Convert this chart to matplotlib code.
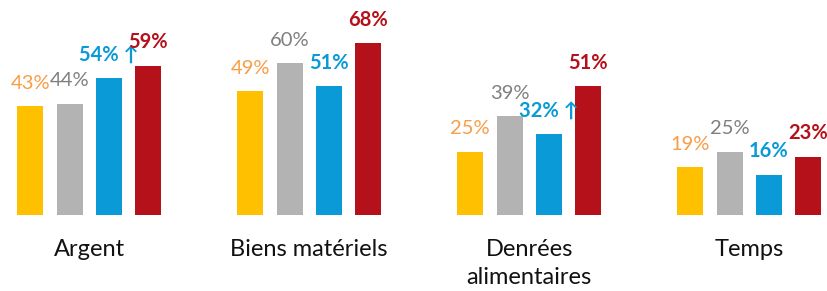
import matplotlib
matplotlib.use("Agg")
import matplotlib.pyplot as plt
import numpy as np

categories = ["Argent", "Biens matériels", "Denrées\nalimentaires", "Temps"]
yellow = [43, 49, 25, 19]
gray = [44, 60, 39, 25]
blue = [54, 51, 32, 16]
red = [59, 68, 51, 23]
blue_arrow = [True, False, True, False]

series = [yellow, gray, blue, red]
bar_colors = ["#FFC000", "#B3B3B3", "#0A9AD7", "#B5111A"]
label_colors = ["#F89C47", "#7F7F7F", "#0A9AD7", "#B5111A"]
label_weights = ["normal", "normal", "bold", "bold"]

plt.rcParams["font.family"] = ["Lato", "DejaVu Sans"]

fig = plt.figure(figsize=(8.27, 2.91), dpi=100)
ax = fig.add_axes([0, 76 / 291, 1, 215 / 291])

x = np.arange(len(categories))
step = 0.1786
width = 0.118
offsets = [-1.5 * step, -0.5 * step, 0.5 * step, 1.5 * step]

for k, vals in enumerate(series):
    pos = x + offsets[k]
    ax.bar(pos, vals, width=width, color=bar_colors[k])
    for i, (p, v) in enumerate(zip(pos, vals)):
        txt = f"{v}%"
        if k == 2 and blue_arrow[i]:
            txt += " ↑"
        ax.annotate(txt, (p, v), xytext=(0, 12.5), textcoords="offset points",
                    ha="center", va="baseline", fontsize=14.5,
                    color=label_colors[k], fontweight=label_weights[k],
                    annotation_clip=False)

ax.set_xlim(-89.2 / 220, (827 - 89.2) / 220)
ax.set_ylim(0, 85)
ax.set_xticks(x)
ax.set_xticklabels(categories, fontsize=17, color="#111111", linespacing=1.45)
ax.tick_params(axis="x", length=0, pad=17)
ax.set_yticks([])
for s in ax.spines.values():
    s.set_visible(False)

fig.savefig("out.png", dpi=100)
